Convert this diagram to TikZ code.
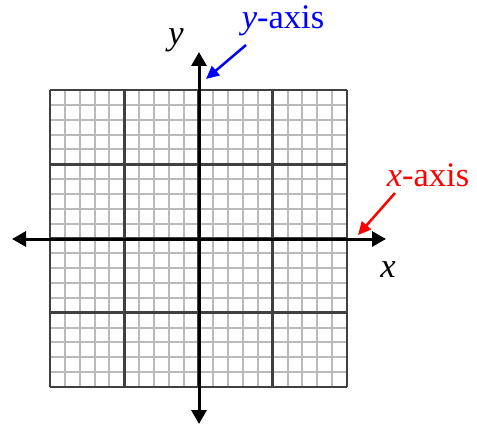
\documentclass[tikz,border=0pt]{standalone}
\usepackage{fontspec}
\setmainfont{Liberation Serif}
\usetikzlibrary{arrows.meta}
\tikzset{
  minorline/.style={draw=black!27, line width=2pt},
  majorline/.style={draw=black!75, line width=2.6pt},
  axisline/.style={draw=black, line width=3pt, -{Triangle[length=14pt,width=15pt]}},
  bigtext/.style={font=\fontsize{34.5}{38}\selectfont, inner sep=0pt},
  pointer/.style={line width=2.5pt, -{Triangle[length=13pt,width=12pt]}}
}
\begin{document}
\begin{tikzpicture}[x=1pt,y=-1pt]
\useasboundingbox (0,0) rectangle (477,425);
% minor grid
\foreach \i in {1,...,19}{
  \draw[minorline] ({50+\i*14.85},90) -- ({50+\i*14.85},387);
  \draw[minorline] (50,{90+\i*14.85}) -- (347,{90+\i*14.85});
}
% major grid
\foreach \i in {0,...,4}{
  \draw[majorline] ({50+\i*74.25},90) -- ({50+\i*74.25},387);
  \draw[majorline] (50,{90+\i*74.25}) -- (347,{90+\i*74.25});
}
% axes
\coordinate (o) at (199,239);
\coordinate (xl) at (12,239);
\coordinate (xr) at (386,239);
\coordinate (yt) at (199,52);
\coordinate (yb) at (199,424);
\draw[axisline] (o) -- (xr);
\draw[axisline] (o) -- (xl);
\draw[axisline] (o) -- (yt);
\draw[axisline] (o) -- (yb);
% labels
\node[bigtext] (ylab) at (176,40) {\textit{y}};
\node[bigtext] (xlab) at (388,270) {\textit{x}};
\node[bigtext, text=blue] (yaxis) at (283,21) {\textit{y}-axis};
\node[bigtext, text=red] (xaxis) at (428,175) {\textit{x}-axis};
% pointers
\coordinate (yptr) at (206,79);
\coordinate (xptr) at (358,235);
\draw[pointer, blue] (246,45) -- (yptr);
\draw[pointer, red] (395,193) -- (xptr);
\end{tikzpicture}
\end{document}
